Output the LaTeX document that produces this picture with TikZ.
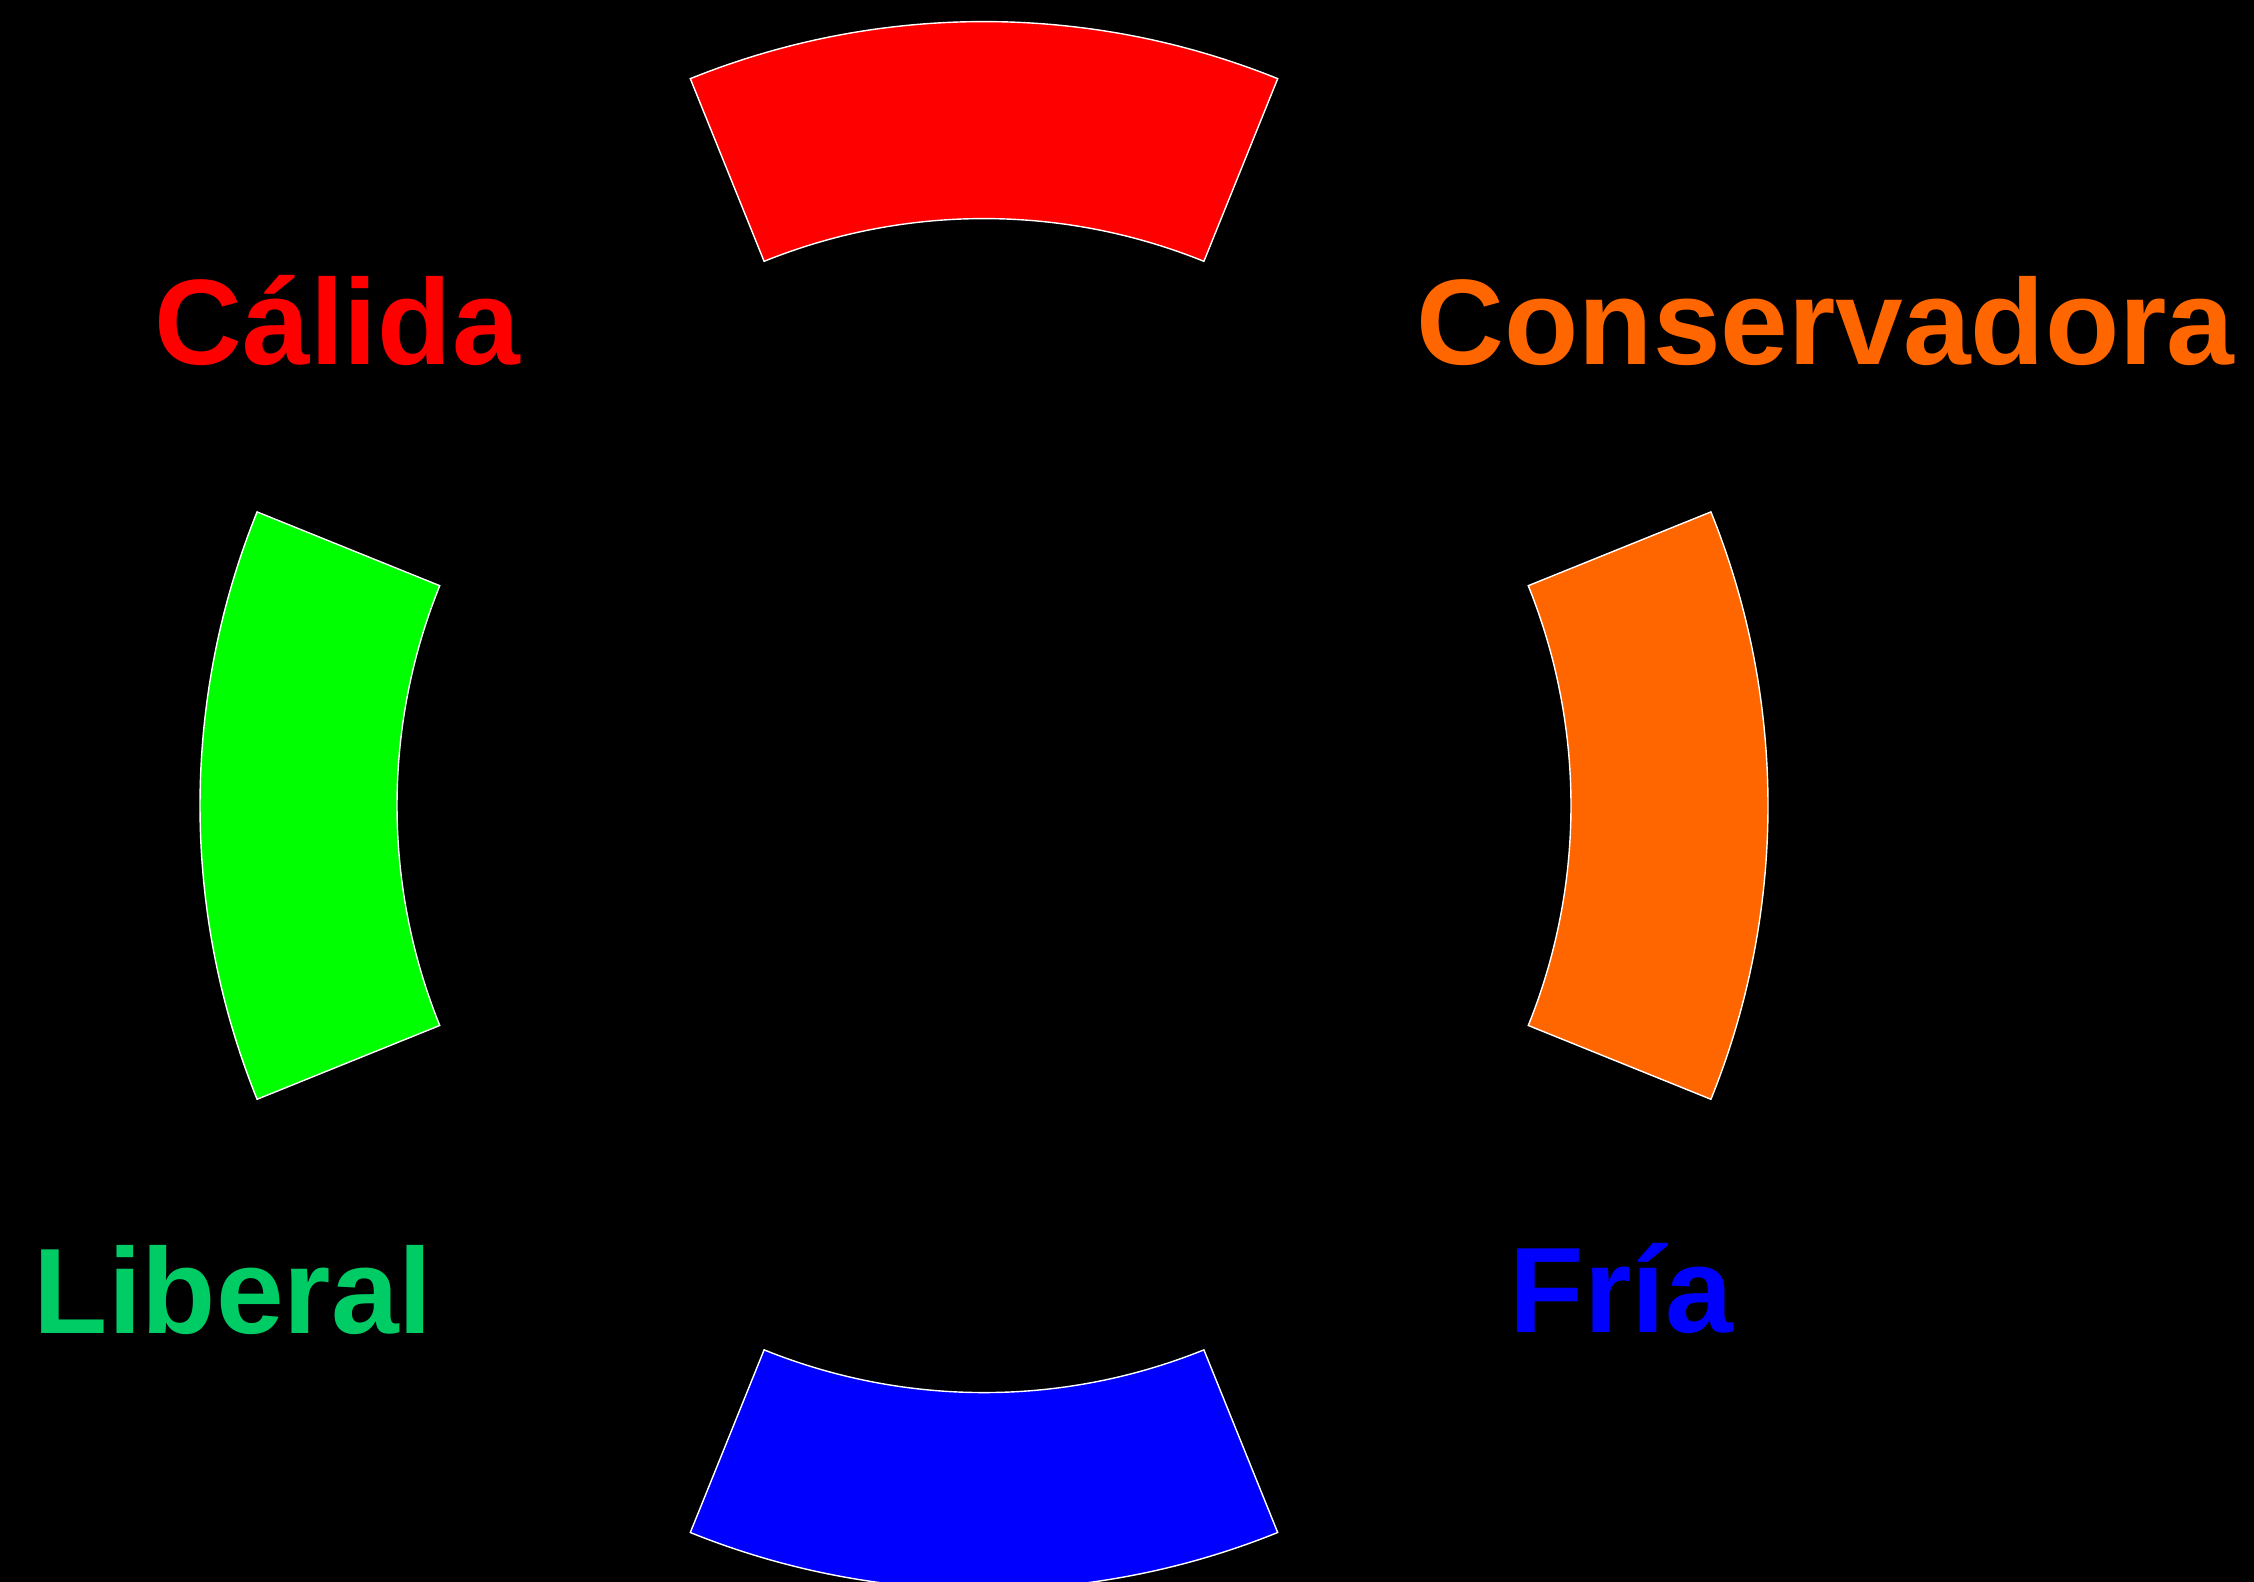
\documentclass[tikz,border=0pt]{standalone}
\usepackage{fontspec}
\setmainfont{Liberation Sans}
\usepackage{xcolor}
\usetikzlibrary{positioning}
\definecolor{rojo}{HTML}{FF0000}
\definecolor{naranja}{HTML}{FF6600}
\definecolor{verde}{HTML}{00FF00}
\definecolor{verdeosc}{HTML}{00CC66}
\definecolor{azul}{HTML}{0000FF}

\begin{document}
\begin{tikzpicture}[
    sector/.style={draw=white, line width=0.4pt},
    tag/.style={anchor=base west, inner sep=0pt,
                font=\fontsize{34.6}{40}\selectfont\bfseries},
]
\fill[black] (0,0) rectangle (22.54,15.82);
\useasboundingbox (0,0) rectangle (22.54,15.82);
\clip (0,0) rectangle (22.54,15.82);
% four ring sectors
\foreach \a/\c in {90/rojo, 0/naranja, 180/verde, 270/azul} {
  \draw[sector, fill=\c, shift={(9.84,7.764)}]
    (\a-22:5.87) arc[start angle=\a-22, end angle=\a+22, radius=5.87]
    -- (\a+22:7.84) arc[start angle=\a+22, end angle=\a-22, radius=7.84]
    -- cycle;
}
% labels
\node[tag, text=rojo] (calida) at (1.54,12.17) {Cálida};
\node[tag, text=naranja] (conservadora) at (14.16,12.17) {Conservadora};
\node[tag, text=verdeosc] (liberal) at (0.33,2.48) {Liberal};
\node[tag, text=azul] (fria) at (15.09,2.49) {Fría};
\end{tikzpicture}
\end{document}
